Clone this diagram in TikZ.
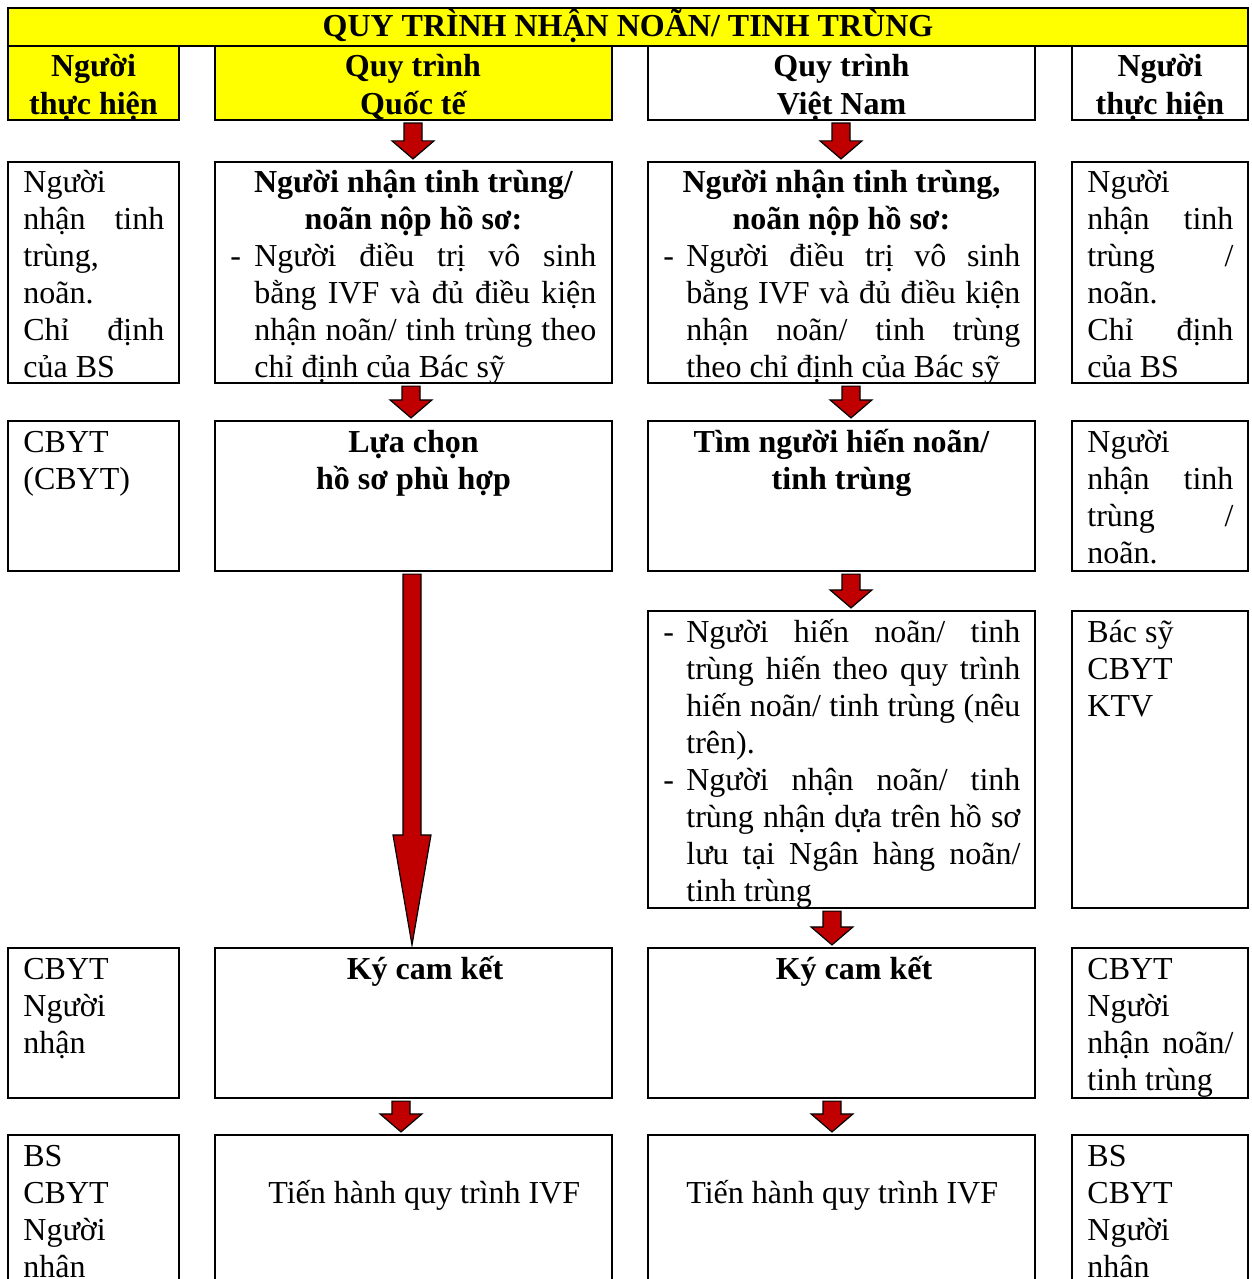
\documentclass[tikz,border=0pt]{standalone}
\usepackage{fontspec}
\setmainfont{Liberation Serif}
\usetikzlibrary{fit,calc}
\definecolor{boxyellow}{HTML}{FFFF00}
\definecolor{arrowred}{HTML}{C00000}
% justified line: words separated by \hfill
\newcommand\jl[2]{\leavevmode\hbox to #1{#2}}
\newcommand\fatarrow[5]{% #1 source node, #2 target node, #3 x (px), #4 head length, #5 head half width
  \filldraw[fatarrowstyle] let \p1=(#1.south), \p2=(#2.north), \p3=(#3,0) in
    (\x3-4.5pt,\y1-1pt) -- (\x3+4.5pt,\y1-1pt) -- (\x3+4.5pt,\y2+#4+1pt) -- (\x3+#5,\y2+#4+1pt)
    -- (\x3,\y2+1pt) -- (\x3-#5,\y2+#4+1pt) -- (\x3-4.5pt,\y2+#4+1pt) -- cycle;}
\tikzset{
  box/.style={draw=black, line width=1.1pt, inner sep=0pt, fill=white},
  ybox/.style={box, fill=boxyellow},
  txt/.style={inner sep=0pt, font=\fontsize{16}{18.5}\selectfont, align=flush left, text width=90pt,
    execute at begin node={\spaceskip=0pt \xspaceskip=0pt }},
  btxt/.style={inner sep=0pt, font=\fontsize{16}{18.5}\selectfont\bfseries, align=flush center, text width=200pt,
    execute at begin node={\spaceskip=0pt \xspaceskip=0pt }},
  fatarrowstyle/.style={fill=arrowred, draw=black, line width=0.6pt, line join=miter},
}
\begin{document}
\begin{tikzpicture}[x=0.5pt, y=-0.5pt]
\clip (0,0) rectangle (1252,1279);
\fill[white] (0,0) rectangle (1252,1279);
% title and header
\node[ybox, fit={(8,8) (1248,46)}] (title) {};
\node[ybox, fit={(8,46) (179,120)}] (hA) {};
\node[ybox, fit={(215,46) (612,120)}] (hB) {};
\node[box, fit={(648,46) (1035,120)}] (hC) {};
\node[box, fit={(1072,46) (1248,120)}] (hD) {};
% row 2
\node[box, fit={(8,162) (179,383)}] (r2A) {};
\node[box, fit={(215,162) (612,383)}] (r2B) {};
\node[box, fit={(648,162) (1035,383)}] (r2C) {};
\node[box, fit={(1072,162) (1248,383)}] (r2D) {};
% row 3
\node[box, fit={(8,421) (179,571)}] (r3A) {};
\node[box, fit={(215,421) (612,571)}] (r3B) {};
\node[box, fit={(648,421) (1035,571)}] (r3C) {};
\node[box, fit={(1072,421) (1248,571)}] (r3D) {};
% row 4
\node[box, fit={(648,611) (1035,908)}] (r4C) {};
\node[box, fit={(1072,611) (1248,908)}] (r4D) {};
% row 5
\node[box, fit={(8,948) (179,1098)}] (r5A) {};
\node[box, fit={(215,948) (612,1098)}] (r5B) {};
\node[box, fit={(648,948) (1035,1098)}] (r5C) {};
\node[box, fit={(1072,948) (1248,1098)}] (r5D) {};
% row 6
\node[box, fit={(8,1135) (179,1320)}] (r6A) {};
\node[box, fit={(215,1135) (612,1320)}] (r6B) {};
\node[box, fit={(648,1135) (1035,1320)}] (r6C) {};
\node[box, fit={(1072,1135) (1248,1320)}] (r6D) {};

% arrows
\fatarrow{hB}{r2B}{413}{9pt}{10.5pt}
\fatarrow{hC}{r2C}{841}{9pt}{10.5pt}
\fatarrow{r2B}{r3B}{411}{9pt}{10.5pt}
\fatarrow{r2C}{r3C}{851}{9pt}{10.5pt}
\fatarrow{r3C}{r4C}{851}{9pt}{10.5pt}
\fatarrow{r3B}{r5B}{412}{55pt}{9.5pt}
\fatarrow{r4C}{r5C}{832}{9pt}{10.5pt}
\fatarrow{r5B}{r6B}{401}{9pt}{10.5pt}
\fatarrow{r5C}{r6C}{832}{9pt}{10.5pt}

% title / header text
\node[btxt, text width=600pt, anchor=base] (tTitle) at (628,37) {QUY TRÌNH NHẬN NOÃN/ TINH TRÙNG};
\node[btxt, anchor=base] (thA) at (93.5,77) {Người\\thực hiện};
\node[btxt, anchor=base] (thB) at (413,77) {Quy trình\\Quốc tế};
\node[btxt, anchor=base] (thC) at (841.5,77) {Quy trình\\Việt Nam};
\node[btxt, anchor=base] (thD) at (1160,77) {Người\\thực hiện};

% row 2 text
\node[txt, anchor=base west, text width=70.5pt] (t2A) at (23,192)
  {Người\\ \jl{70.5pt}{nhận \hfill tinh}\\ trùng,\\ noãn.\\ \jl{70.5pt}{Chỉ \hfill định}\\ của BS};
\node[btxt, anchor=base] (t2Bh) at (413.5,192) {Người nhận tinh trùng/\\noãn nộp hồ sơ:};
\node[txt, anchor=base west, text width=183pt] (t2B) at (230,266)
  {\makebox[12pt][l]{-}\jl{171pt}{Người \hfill điều \hfill trị \hfill vô \hfill sinh}\\
   \hspace*{12pt}\jl{171pt}{bằng \hfill IVF \hfill và \hfill đủ \hfill điều \hfill kiện}\\
   \hspace*{12pt}\jl{171pt}{nhận \hfill noãn/ \hfill tinh \hfill trùng \hfill theo}\\
   \hspace*{12pt}chỉ định của Bác sỹ};
\node[btxt, anchor=base] (t2Ch) at (841.5,192) {Người nhận tinh trùng,\\noãn nộp hồ sơ:};
\node[txt, anchor=base west, text width=179pt] (t2C) at (663,266)
  {\makebox[11.5pt][l]{-}\jl{167pt}{Người \hfill điều \hfill trị \hfill vô \hfill sinh}\\
   \hspace*{11.5pt}\jl{167pt}{bằng \hfill IVF \hfill và \hfill đủ \hfill điều \hfill kiện}\\
   \hspace*{11.5pt}\jl{167pt}{nhận \hfill noãn/ \hfill tinh \hfill trùng}\\
   \hspace*{11.5pt}theo chỉ định của Bác sỹ};
\node[txt, anchor=base west, text width=73pt] (t2D) at (1087,192)
  {Người\\ \jl{73pt}{nhận \hfill tinh}\\ \jl{73pt}{trùng \hfill /}\\ noãn.\\ \jl{73pt}{Chỉ \hfill định}\\ của BS};

% row 3 text
\node[txt, anchor=base west] (t3A) at (23,452) {CBYT\\(CBYT)};
\node[btxt, anchor=base] (t3B) at (413.5,452) {Lựa chọn\\hồ sơ phù hợp};
\node[btxt, anchor=base] (t3C) at (841.5,452) {Tìm người hiến noãn/\\tinh trùng};
\node[txt, anchor=base west, text width=73pt] (t3D) at (1087,452)
  {Người\\ \jl{73pt}{nhận \hfill tinh}\\ \jl{73pt}{trùng \hfill /}\\ noãn.};

% row 4 text
\node[txt, anchor=base west, text width=179pt] (t4C) at (663,642)
  {\makebox[11.5pt][l]{-}\jl{167pt}{Người \hfill hiến \hfill noãn/ \hfill tinh}\\
   \hspace*{11.5pt}\jl{167pt}{trùng \hfill hiến \hfill theo \hfill quy \hfill trình}\\
   \hspace*{11.5pt}\jl{167pt}{hiến \hfill noãn/ \hfill tinh \hfill trùng \hfill (nêu}\\
   \hspace*{11.5pt}trên).\\
   \makebox[11.5pt][l]{-}\jl{167pt}{Người \hfill nhận \hfill noãn/ \hfill tinh}\\
   \hspace*{11.5pt}\jl{167pt}{trùng \hfill nhận \hfill dựa \hfill trên \hfill hồ \hfill sơ}\\
   \hspace*{11.5pt}\jl{167pt}{lưu \hfill tại \hfill Ngân \hfill hàng \hfill noãn/}\\
   \hspace*{11.5pt}tinh trùng};
\node[txt, anchor=base west] (t4D) at (1087,642) {Bác sỹ\\CBYT\\KTV};

% row 5 text
\node[txt, anchor=base west] (t5A) at (23,979) {CBYT\\Người\\nhận};
\node[btxt, anchor=base] (t5B) at (425,979) {Ký cam kết};
\node[btxt, anchor=base] (t5C) at (854,979) {Ký cam kết};
\node[txt, anchor=base west, text width=73pt] (t5D) at (1087,979)
  {CBYT\\ Người\\ \jl{73pt}{nhận \hfill noãn/}\\ tinh trùng};

% row 6 text
\node[txt, anchor=base west] (t6A) at (23,1166) {BS\\CBYT\\Người\\nhận};
\node[txt, anchor=base west, text width=180pt] (t6B) at (268,1203) {Tiến hành quy trình IVF};
\node[txt, anchor=base west, text width=180pt] (t6C) at (686,1203) {Tiến hành quy trình IVF};
\node[txt, anchor=base west] (t6D) at (1087,1166) {BS\\CBYT\\Người\\nhận};
\end{tikzpicture}
\end{document}
